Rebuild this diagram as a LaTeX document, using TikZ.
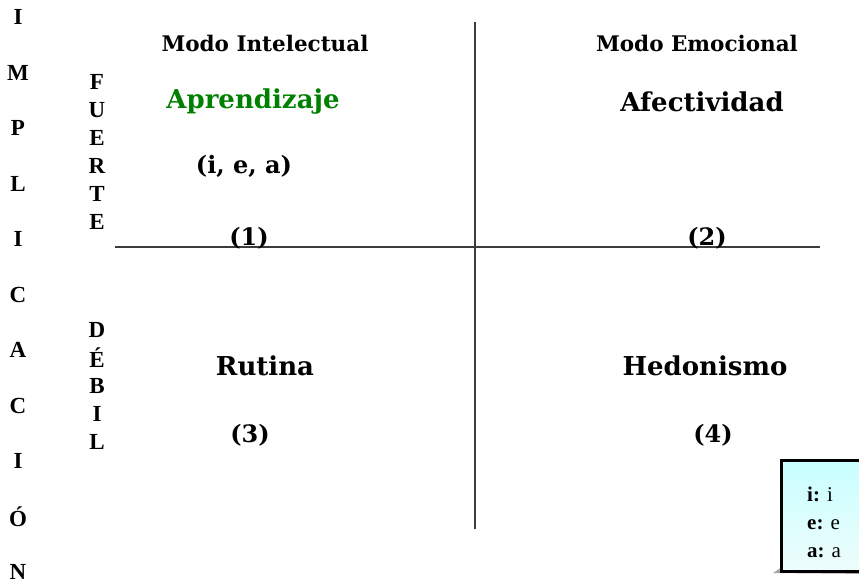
\documentclass[tikz,border=0pt]{standalone}
\usepackage{fontspec}
\setmainfont{DejaVu Serif}
\newfontfamily\timesf{Liberation Serif}
\definecolor{aprgreen}{RGB}{0,128,0}
\definecolor{axisgray}{RGB}{60,60,60}
\definecolor{boxtop}{RGB}{200,255,255}
\definecolor{boxbot}{RGB}{238,252,252}
\tikzset{
  hdr/.style={font=\bfseries\fontsize{21.5}{24}\selectfont, inner sep=0pt},
  big/.style={font=\bfseries\fontsize{26}{30}\selectfont, inner sep=0pt},
  num/.style={font=\bfseries\fontsize{24}{28}\selectfont, inner sep=0pt},
  vlet/.style={font=\timesf\bfseries\fontsize{23}{26}\selectfont, inner sep=0pt},
  legtxt/.style={font=\timesf\fontsize{21}{24}\selectfont, inner sep=0pt, anchor=base west},
  axisline/.style={line width=1.3pt, draw=axisgray},
}
\begin{document}
\begin{tikzpicture}[x=1pt, y=-1pt]
\useasboundingbox (0,0) rectangle (859,585);
\clip (0,0) rectangle (859,585);
% axes
\coordinate (vtop) at (475,22);
\coordinate (vbot) at (475,529);
\coordinate (hleft) at (115,247);
\coordinate (hright) at (820,247);
\draw[axisline] (vtop) -- (vbot);
\draw[axisline] (hleft) -- (hright);
% headers
\node[hdr] (mi) at (265,43) {Modo Intelectual};
\node[hdr] (me) at (697,43) {Modo Emocional};
% quadrant 1
\node[big, text=aprgreen] (apr) at (253,102) {Aprendizaje};
\node[num] (iea) at (244,166) {(i, e, a)};
\node[num] (n1) at (249,238) {(1)};
% quadrant 2
\node[big] (afe) at (702,102) {Afectividad};
\node[num] (n2) at (707,238) {(2)};
% quadrant 3
\node[big] (rut) at (265,366) {Rutina};
\node[num] (n3) at (250,435) {(3)};
% quadrant 4
\node[big] (hed) at (705,366) {Hedonismo};
\node[num] (n4) at (713,435) {(4)};
% vertical words
\foreach \l [count=\i from 0] in {I,M,P,L,I,C,A,C,I,Ó,N}
  \node[vlet] (imp\i) at (18,17+55.5*\i) {\l};
\foreach \l [count=\i from 0] in {F,U,E,R,T,E}
  \node[vlet] (fu\i) at (97,82+28*\i) {\l};
\foreach \l [count=\i from 0] in {D,É,B,I,L}
  \node[vlet] (de\i) at (97,330+28*\i) {\l};
% legend box
\fill[gray!70] (773,573) -- (785,565) -- (870,565) -- (870,574) -- cycle;
\draw[line width=3pt, top color=boxtop, bottom color=boxbot] (781,460) rectangle (880,571);
\node[legtxt] (li) at (807,501) {\textbf{i:} i};
\node[legtxt] (le) at (807,529) {\textbf{e:} e};
\node[legtxt] (la) at (807,557) {\textbf{a:} a};
\end{tikzpicture}
\end{document}
